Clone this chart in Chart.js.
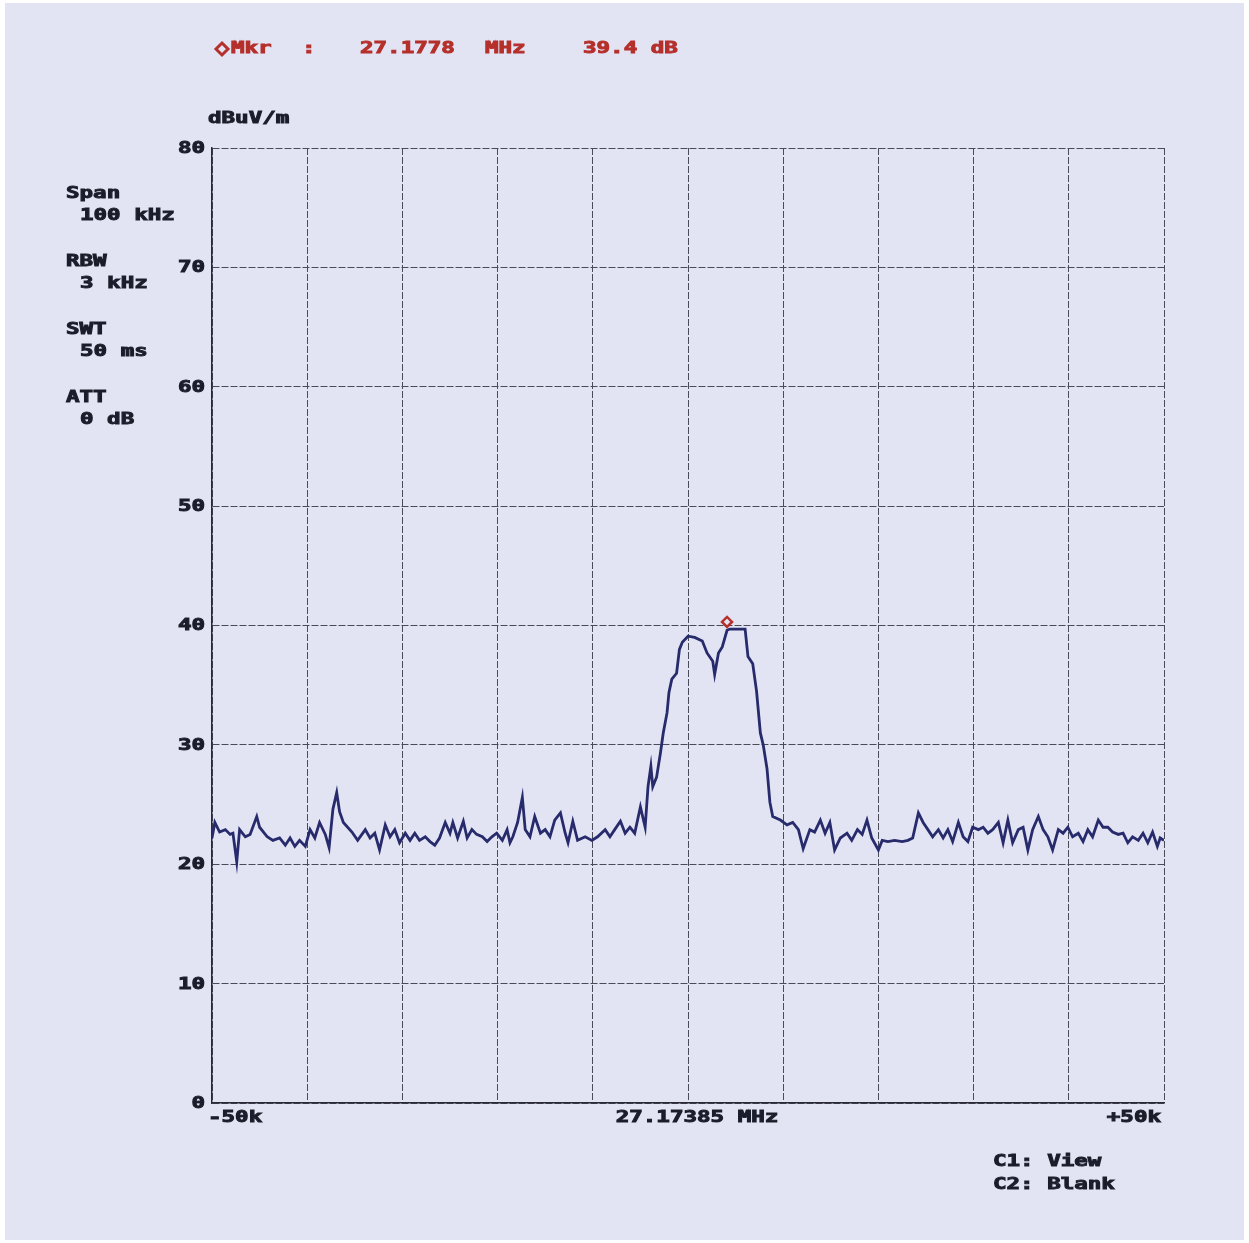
<!DOCTYPE html>
<html>
<head>
<meta charset="utf-8">
<script src="https://cdn.jsdelivr.net/npm/chart.js@4.4.1/dist/chart.umd.min.js"></script>
<style>
  html, body { margin: 0; padding: 0; background: #fff; }
  #wrap { width: 1249px; height: 1243px; }
</style>
</head>
<body>
<div id="wrap"><canvas id="chart" width="1249" height="1243"></canvas></div>
<script>
// frequency offset from centre, kHz
const freqOffsets = [
  -50.0, -49.7, -49.2, -48.6, -48.1, -47.8, -47.4, -47.1, -46.5, -46.0,
  -45.3, -45.0, -44.2, -43.6, -42.9, -42.3, -41.8, -41.3, -40.8, -40.2,
  -39.7, -39.2, -38.7, -38.1, -37.7, -37.3, -36.9, -36.6, -36.2, -35.3,
  -34.7, -33.9, -33.4, -32.9, -32.4, -31.8, -31.3, -30.8, -30.3, -29.7,
  -29.2, -28.7, -28.2, -27.6, -27.1, -26.6, -26.1, -25.5, -25.0, -24.7,
  -24.2, -23.6, -23.2, -22.7, -22.2, -21.6, -21.1, -20.6, -20.1, -19.5,
  -19.0, -18.7, -18.4, -17.9, -17.4, -17.1, -16.6, -16.1, -15.5, -15.0,
  -14.5, -14.0, -13.4, -12.9, -12.6, -12.1, -11.6, -10.8, -10.1, -9.5,
  -8.7, -8.2, -7.7, -7.1, -6.6, -6.1, -5.6, -5.0, -4.5, -4.2,
  -3.9, -3.7, -3.3, -2.9, -2.6, -2.2, -2.0, -1.7, -1.2, -0.9,
  -0.6, 0.0, 0.7, 1.5, 2.0, 2.6, 2.8, 3.2, 3.6, 4.1,
  4.4, 5.1, 6.0, 6.3, 6.8, 7.2, 7.6, 7.9, 8.3, 8.6,
  8.9, 9.7, 10.4, 11.0, 11.6, 12.1, 12.8, 13.3, 13.9, 14.4,
  14.9, 15.4, 16.0, 16.7, 17.2, 17.8, 18.3, 18.8, 19.3, 20.0,
  20.4, 21.0, 21.7, 22.5, 23.1, 23.6, 24.2, 24.7, 25.2, 25.7,
  26.3, 26.8, 27.3, 27.8, 28.4, 28.9, 29.4, 29.9, 30.5, 31.0,
  31.5, 32.0, 32.6, 33.1, 33.6, 34.1, 34.7, 35.2, 35.7, 36.2,
  36.8, 37.3, 37.8, 38.3, 38.9, 39.4, 39.9, 40.4, 41.0, 41.5,
  42.0, 42.5, 43.1, 43.6, 44.1, 44.6, 45.2, 45.7, 46.2, 46.7,
  47.3, 47.8, 48.3, 48.8, 49.3, 49.6, 50.0
];
// level, dBuV/m
const levels = [
  22.2, 23.5, 22.7, 22.9, 22.5, 22.6, 20.2, 22.9, 22.3, 22.5,
  24.0, 23.1, 22.3, 22.0, 22.2, 21.6, 22.2, 21.5, 22.0, 21.5,
  22.9, 22.2, 23.5, 22.5, 21.4, 24.6, 26.0, 24.4, 23.5, 22.7,
  22.0, 22.9, 22.2, 22.6, 21.2, 23.3, 22.3, 22.9, 21.8, 22.6,
  22.0, 22.6, 22.0, 22.3, 21.9, 21.6, 22.2, 23.5, 22.6, 23.5,
  22.2, 23.6, 22.2, 22.9, 22.5, 22.3, 21.9, 22.3, 22.6, 22.0,
  22.9, 21.8, 22.3, 23.5, 25.6, 22.9, 22.3, 24.0, 22.6, 22.9,
  22.3, 23.7, 24.3, 22.6, 21.8, 23.6, 22.0, 22.3, 22.0, 22.3,
  22.9, 22.3, 22.9, 23.6, 22.6, 23.1, 22.6, 24.8, 23.1, 26.5,
  28.2, 26.5, 27.3, 29.3, 31.0, 32.7, 34.4, 35.5, 36.0, 38.0,
  38.6, 39.1, 39.0, 38.7, 37.7, 37.0, 35.9, 37.7, 38.2, 39.6,
  39.7, 39.7, 39.7, 37.4, 36.8, 34.5, 31.0, 30.0, 28.0, 25.2,
  24.0, 23.7, 23.3, 23.5, 22.9, 21.3, 22.9, 22.7, 23.7, 22.6,
  23.5, 21.2, 22.2, 22.6, 22.0, 22.9, 22.5, 23.7, 22.2, 21.2,
  22.0, 21.9, 22.0, 21.9, 22.0, 22.2, 24.3, 23.5, 22.9, 22.3,
  22.9, 22.2, 22.9, 21.9, 23.5, 22.3, 21.9, 23.1, 22.9, 23.1,
  22.6, 22.9, 23.5, 21.8, 23.7, 21.8, 22.9, 23.1, 21.2, 22.9,
  24.0, 22.9, 22.3, 21.2, 22.9, 22.6, 23.1, 22.3, 22.6, 21.9,
  22.9, 22.3, 23.7, 23.1, 23.1, 22.7, 22.5, 22.6, 21.8, 22.3,
  22.0, 22.6, 21.8, 22.7, 21.5, 22.2, 22.0
];
const markerFreq = 4.1;
const markerLevel = 40.3;
const levelTicks = [0, 10, 20, 30, 40, 50, 60, 70, 80];
const freqLabels = ["-50k", "27.17385 MHz", "+50k"];
const markerText = ["Mkr", ":", "27.1778", "MHz", "39.4 dB"];
const settingNames = ["Span", "RBW", "SWT", "ATT"];
const settingValues = ["100 kHz", "3 kHz", "50 ms", "0 dB"];
const traceInfo = ["C1: View", "C2: Blank"];
const unitLabel = "dBuV/m";

const INK = "#1c1d2a";
const RED = "#b5302b";
const FONT = 'bold 15px "DejaVu Sans Mono"';

// printer-style text: wide, heavy
function drawText(ctx, str, x, y, color, align) {
  ctx.save();
  ctx.translate(x, y);
  ctx.scale(1.5, 1);
  ctx.font = FONT;
  ctx.fillStyle = color;
  ctx.strokeStyle = color;
  ctx.lineWidth = 0.9;
  ctx.textAlign = align || "left";
  ctx.textBaseline = "middle";
  ctx.fillText(str, 0, 0);
  ctx.strokeText(str, 0, 0);
  ctx.restore();
}

const paper = {
  id: "paper",
  beforeDraw(chart) {
    const ctx = chart.ctx;
    ctx.save();
    ctx.fillStyle = "#ffffff";
    ctx.fillRect(0, 0, chart.width, chart.height);
    ctx.fillStyle = "#e2e4f4";
    ctx.fillRect(5, 3, 1239, 1237);
    ctx.restore();
  },
  afterDraw(chart) {
    const ctx = chart.ctx;
    const xs = chart.scales.x, ys = chart.scales.y;

    // marker readout
    ctx.save();
    ctx.strokeStyle = RED;
    ctx.lineWidth = 3;
    ctx.beginPath();
    ctx.moveTo(222, 43); ctx.lineTo(228, 49); ctx.lineTo(222, 55); ctx.lineTo(216, 49);
    ctx.closePath();
    ctx.stroke();
    ctx.restore();
    drawText(ctx, markerText[0], 231, 49, RED);
    drawText(ctx, markerText[1], 302, 49, RED);
    drawText(ctx, markerText[2], 360, 49, RED);
    drawText(ctx, markerText[3], 485, 49, RED);
    drawText(ctx, markerText[4], 583, 49, RED);

    drawText(ctx, unitLabel, 208, 119, INK);

    for (let i = 0; i < settingNames.length; i++) {
      drawText(ctx, settingNames[i], 66, 194 + i * 68, INK);
      drawText(ctx, settingValues[i], 80, 216 + i * 68, INK);
    }

    levelTicks.forEach(function (v) {
      drawText(ctx, String(v), 205, ys.getPixelForValue(v) + 1, INK, "right");
    });

    drawText(ctx, freqLabels[0], xs.getPixelForValue(-50) - 4, 1118, INK, "left");
    drawText(ctx, freqLabels[1], xs.getPixelForValue(0) + 9, 1118, INK, "center");
    drawText(ctx, freqLabels[2], xs.getPixelForValue(50) - 3, 1118, INK, "right");

    drawText(ctx, traceInfo[0], 993, 1162, INK);
    drawText(ctx, traceInfo[1], 993, 1185, INK);
  }
};

const trace = freqOffsets.map(function (f, i) { return { x: f, y: levels[i] }; });

const gridOpts = { color: "#4b4b58", lineWidth: 1, drawTicks: false };

new Chart(document.getElementById("chart"), {
  type: "scatter",
  data: {
    datasets: [
      {
        label: "C1",
        data: trace,
        showLine: true,
        borderColor: "#272a6b",
        borderWidth: 2.8,
        pointRadius: 0,
        tension: 0
      },
      {
        label: "Mkr",
        data: [{ x: markerFreq, y: markerLevel }],
        pointStyle: "rectRot",
        pointRadius: 5,
        borderColor: RED,
        borderWidth: 2.5,
        backgroundColor: "#e2e4f4"
      }
    ]
  },
  options: {
    responsive: false,
    animation: false,
    layout: { padding: { left: 212, right: 85, top: 148, bottom: 140 } },
    plugins: { legend: { display: false }, tooltip: { enabled: false } },
    scales: {
      x: {
        type: "linear",
        min: -50,
        max: 50,
        ticks: { display: false, stepSize: 10 },
        grid: gridOpts,
        border: { display: true, color: "#2a2a36", width: 1.5, dash: [7, 2] }
      },
      y: {
        min: 0,
        max: 80,
        ticks: { display: false, stepSize: 10 },
        grid: gridOpts,
        border: { display: true, color: "#2a2a36", width: 1.5, dash: [7, 2] }
      }
    }
  },
  plugins: [paper]
});
</script>
</body>
</html>
